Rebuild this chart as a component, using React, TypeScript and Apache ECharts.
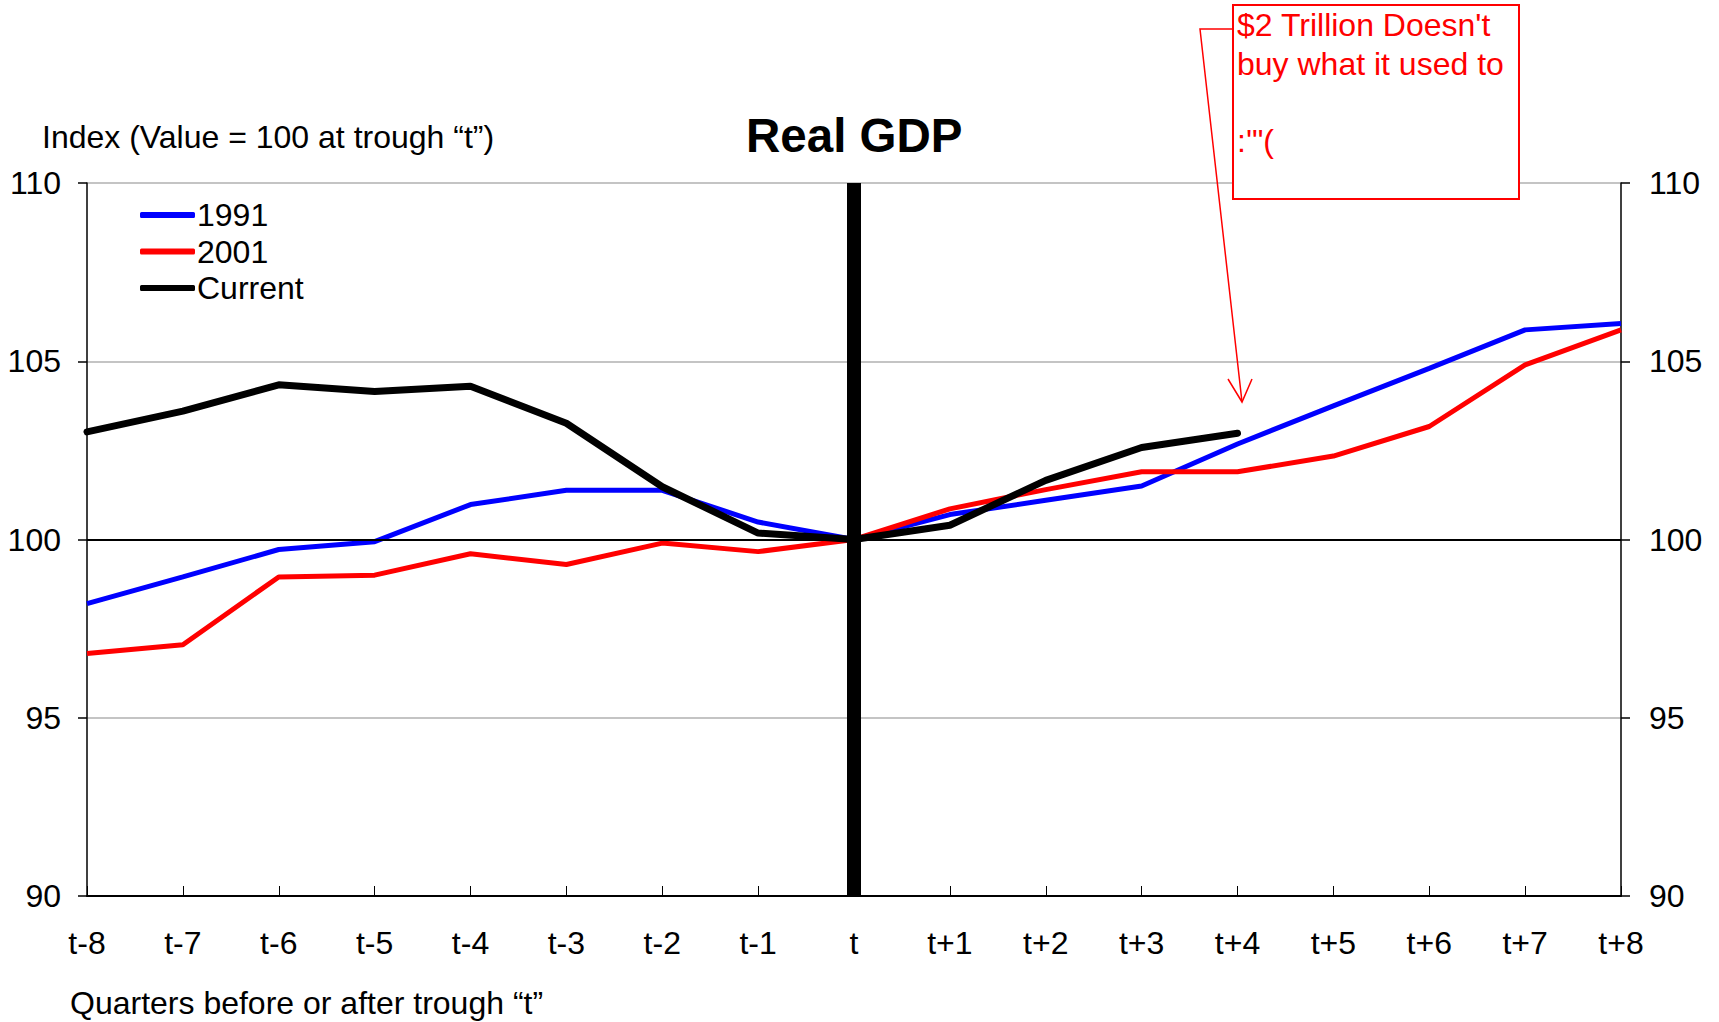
import React, { useEffect, useRef } from 'react';
import * as echarts from 'echarts';

const categories = ['t-8', 't-7', 't-6', 't-5', 't-4', 't-3', 't-2', 't-1', 't', 't+1', 't+2', 't+3', 't+4', 't+5', 't+6', 't+7', 't+8'];
const series1991 = [98.2, 98.95, 99.72, 99.94, 100.98, 101.38, 101.38, 100.49, 100, 100.7, 101.1, 101.5, 102.68, 103.75, 104.8, 105.88, 106.06];
const series2001 = [96.8, 97.05, 98.95, 99.0, 99.6, 99.3, 99.9, 99.66, 100, 100.86, 101.4, 101.9, 101.9, 102.34, 103.17, 104.9, 105.88];
const seriesCurrent = [103.02, 103.6, 104.34, 104.15, 104.3, 103.26, 101.48, 100.18, 100, 100.4, 101.66, 102.58, 102.98, null, null, null, null];
const legendNames = ['1991', '2001', 'Current'];
const yMin = 90;
const yMax = 110;
const yStep = 5;

const FONT = 'Liberation Sans, Arial, Helvetica, sans-serif';
const FS = 32;

export default function App() {
  const ref = useRef<HTMLDivElement>(null);
  useEffect(() => {
    document.body.style.margin = '0';
    const chart = echarts.init(ref.current as HTMLDivElement, null, { renderer: 'svg' });
    const yAxisBase = {
      type: 'value',
      min: yMin,
      max: yMax,
      interval: yStep,
      axisLine: { show: true, lineStyle: { color: '#000', width: 1.5 } },
      axisTick: { show: true, inside: false, length: 9, lineStyle: { color: '#000', width: 1.5 } },
      axisLabel: { fontSize: FS, color: '#000', fontFamily: FONT },
    };
    chart.setOption({
      animation: false,
      backgroundColor: '#fff',
      textStyle: { fontFamily: FONT },
      title: {
        text: 'Real GDP',
        left: 746,
        top: 111,
        padding: 0,
        textStyle: { fontSize: 47.5, fontWeight: 'bold', color: '#000', fontFamily: FONT },
      },
      legend: {
        data: legendNames,
        orient: 'vertical',
        left: 140,
        top: 199,
        padding: 0,
        itemGap: 4.5,
        itemWidth: 55,
        itemHeight: 6,
        icon: 'roundRect',
        textStyle: { fontSize: FS, color: '#000', fontFamily: FONT, lineHeight: 31, padding: [0, 0, 0, -3] },
      },
      grid: { left: 87, right: 98, top: 183, bottom: 126, containLabel: false },
      xAxis: {
        type: 'category',
        data: categories,
        boundaryGap: false,
        axisLine: { lineStyle: { color: '#000', width: 2 } },
        axisTick: { show: true, inside: true, length: 10, lineStyle: { color: '#000', width: 1 } },
        axisLabel: { fontSize: FS, color: '#000', margin: 31, interval: 0, fontFamily: FONT },
        splitLine: { show: false },
      },
      yAxis: [
        {
          ...yAxisBase,
          position: 'left',
          axisLabel: { ...yAxisBase.axisLabel, margin: 26 },
          splitLine: { show: true, lineStyle: { color: '#c4c4c4', width: 2 } },
        },
        {
          ...yAxisBase,
          position: 'right',
          axisLabel: { ...yAxisBase.axisLabel, margin: 28 },
          splitLine: { show: false },
        },
      ],
      series: [
        {
          name: 'ref100',
          type: 'line',
          data: [],
          z: 1,
          markLine: {
            silent: true,
            symbol: ['none', 'none'],
            label: { show: false },
            lineStyle: { color: '#000', width: 2, type: 'solid' },
            data: [{ yAxis: 100 }],
          },
        },
        {
          name: '1991',
          type: 'line',
          data: series1991,
          color: '#0000ff',
          showSymbol: false,
          symbol: 'none',
          lineStyle: { color: '#0000ff', width: 5 },
          z: 2,
        },
        {
          name: '2001',
          type: 'line',
          data: series2001,
          color: '#ff0000',
          showSymbol: false,
          symbol: 'none',
          lineStyle: { color: '#ff0000', width: 5 },
          z: 3,
        },
        {
          name: 'Current',
          type: 'line',
          data: seriesCurrent,
          color: '#000000',
          showSymbol: false,
          symbol: 'none',
          connectNulls: false,
          lineStyle: { color: '#000', width: 7, cap: 'round' },
          z: 4,
          markLine: {
            silent: true,
            symbol: ['none', 'none'],
            label: { show: false },
            lineStyle: { color: '#000', width: 14, type: 'solid' },
            data: [{ xAxis: 't' }],
          },
        },
      ],
      graphic: [
        {
          type: 'text',
          x: 42,
          y: 137,
          style: {
            text: 'Index (Value = 100 at trough \u201ct\u201d)',
            fontSize: FS,
            fontFamily: FONT,
            fill: '#000',
            verticalAlign: 'middle',
            align: 'left',
          },
        },
        {
          type: 'text',
          x: 70,
          y: 1003,
          style: {
            text: 'Quarters before or after trough \u201ct\u201d',
            fontSize: FS,
            fontFamily: FONT,
            fill: '#000',
            verticalAlign: 'middle',
            align: 'left',
          },
        },
        {
          type: 'polyline',
          z: 100,
          shape: { points: [[1233, 29], [1200, 29], [1242, 402]] },
          style: { stroke: '#ff0000', lineWidth: 1.5, fill: 'none' },
        },
        {
          type: 'polyline',
          z: 100,
          shape: { points: [[1228, 379], [1242, 402], [1252, 379]] },
          style: { stroke: '#ff0000', lineWidth: 1.5, fill: 'none' },
        },
        {
          type: 'rect',
          z: 100,
          shape: { x: 1233, y: 5, width: 286, height: 194 },
          style: { fill: '#fff', stroke: '#ff0000', lineWidth: 2 },
        },
        {
          type: 'text',
          z: 101,
          x: 1237,
          y: 6,
          style: {
            text: "$2 Trillion Doesn't\nbuy what it used to\n\n:'\"(",
            fontSize: FS,
            lineHeight: 38.5,
            fontFamily: FONT,
            fill: '#ff0000',
            verticalAlign: 'top',
            align: 'left',
          },
        },
      ],
    });
    return () => chart.dispose();
  }, []);
  return <div ref={ref} style={{ width: 1719, height: 1022, position: 'absolute', left: 0, top: 0 }} />;
}
